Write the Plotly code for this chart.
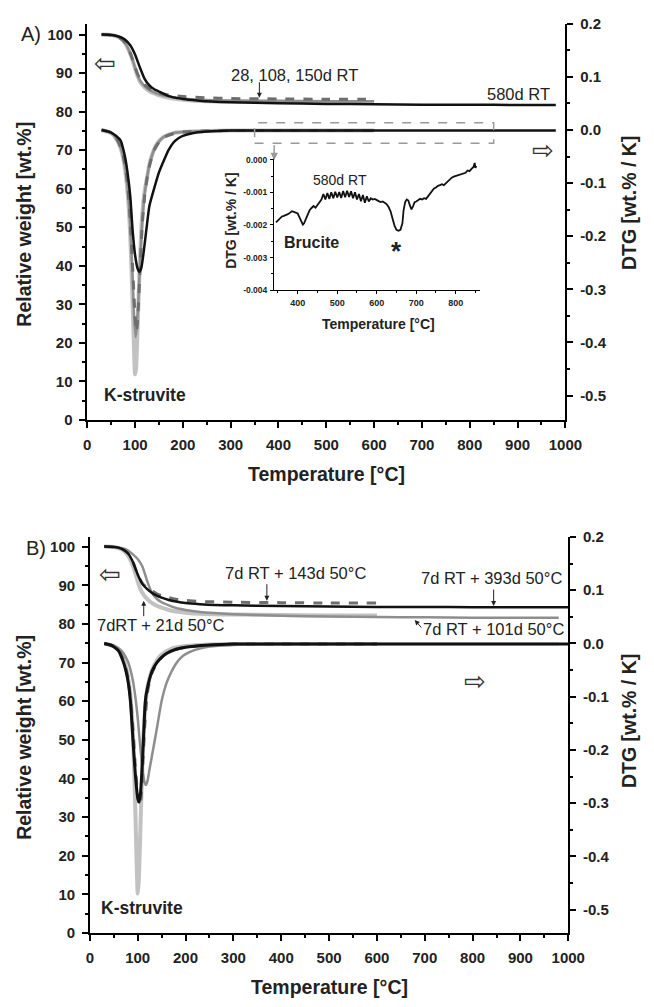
import plotly.graph_objects as go

FONT = "Liberation Sans, Arial, sans-serif"
BLACK = "#111111"
LIGHT = "#c2c2c2"
MID = "#8e8e8e"
DASH = "#6e6e6e"

# ---------------- Panel A : TG (left axis, wt.%) ----------------
a_tg_580_t = [30, 50, 60, 70, 80, 90, 100, 110, 120, 130, 140, 150, 165, 180, 200, 230, 260, 300, 400, 500, 600, 700, 800, 900, 980]
a_tg_580_w = [100, 99.9, 99.7, 99.3, 98.6, 97.2, 94.8, 91.5, 88.5, 86.8, 85.8, 85.2, 84.3, 83.7, 83.3, 82.9, 82.6, 82.4, 82.2, 82.0, 81.9, 81.8, 81.8, 81.7, 81.7]

a_tg_28_t = [30, 50, 60, 70, 80, 90, 95, 100, 105, 110, 120, 130, 140, 150, 170, 200, 250, 300, 400, 500, 600]
a_tg_28_w = [100, 99.9, 99.6, 99.0, 97.6, 95.0, 93.2, 91.2, 89.3, 87.9, 86.3, 85.3, 84.7, 84.2, 83.6, 83.1, 82.7, 82.6, 82.5, 82.4, 82.3]

a_tg_150_t = [30, 50, 60, 70, 80, 90, 95, 100, 105, 110, 120, 130, 140, 150, 170, 200, 250, 300, 400, 500, 600]
a_tg_150_w = [100, 99.9, 99.6, 99.0, 97.7, 95.1, 93.4, 91.4, 89.6, 88.2, 86.6, 85.6, 85.0, 84.5, 83.9, 83.4, 83.0, 82.9, 82.8, 82.7, 82.7]

a_tg_108_t = [30, 50, 60, 70, 80, 90, 95, 100, 105, 110, 120, 130, 140, 150, 170, 200, 250, 300, 400, 500, 600]
a_tg_108_w = [100, 99.9, 99.6, 99.0, 97.7, 95.2, 93.5, 91.6, 89.9, 88.6, 87.0, 86.0, 85.4, 84.9, 84.3, 83.9, 83.6, 83.4, 83.3, 83.2, 83.2]

# ---------------- Panel A : DTG (right axis, wt.%/K) ----------------
a_dtg_580_t = [30, 40, 50, 60, 70, 75, 80, 85, 90, 95, 100, 105, 109, 113, 118, 124, 130, 140, 150, 160, 170, 180, 190, 200, 220, 250, 300, 400, 600, 800, 980]
a_dtg_580_v = [0, -0.002, -0.005, -0.011, -0.02, -0.035, -0.055, -0.085, -0.125, -0.19, -0.235, -0.26, -0.267, -0.26, -0.23, -0.185, -0.143, -0.11, -0.08, -0.058, -0.038, -0.024, -0.016, -0.011, -0.006, -0.003, -0.001, -0.001, -0.001, -0.001, -0.001]

a_dtg_28_t = [30, 50, 60, 70, 75, 80, 85, 90, 95, 98, 100, 102, 105, 110, 115, 120, 125, 130, 140, 150, 160, 180, 200, 250, 300, 400, 500, 600]
a_dtg_28_v = [0, -0.006, -0.016, -0.035, -0.052, -0.08, -0.125, -0.2, -0.33, -0.42, -0.46, -0.45, -0.38, -0.25, -0.16, -0.115, -0.09, -0.065, -0.036, -0.021, -0.013, -0.006, -0.004, -0.002, -0.001, -0.001, -0.001, -0.001]

a_dtg_150_t = [30, 50, 60, 70, 75, 80, 85, 90, 95, 98, 101, 104, 107, 110, 115, 120, 125, 130, 140, 150, 160, 180, 200, 250, 300, 400, 500, 600]
a_dtg_150_v = [0, -0.005, -0.015, -0.033, -0.05, -0.075, -0.115, -0.18, -0.28, -0.35, -0.39, -0.37, -0.32, -0.26, -0.175, -0.122, -0.09, -0.066, -0.037, -0.022, -0.013, -0.006, -0.004, -0.002, -0.001, -0.001, -0.001, -0.001]

a_dtg_108_t = [30, 50, 60, 70, 75, 80, 85, 90, 95, 100, 103, 106, 110, 115, 120, 125, 130, 140, 150, 160, 180, 200, 250, 300, 400, 500, 600]
a_dtg_108_v = [0, -0.005, -0.014, -0.032, -0.048, -0.072, -0.11, -0.17, -0.26, -0.35, -0.38, -0.35, -0.27, -0.18, -0.125, -0.092, -0.068, -0.038, -0.023, -0.014, -0.007, -0.004, -0.002, -0.001, -0.001, -0.001, -0.001]

# ---------------- Inset : brucite region of 580d RT DTG (x 1e-3) ----------------
ins_t = [345, 350, 355, 360, 365, 370, 375, 380, 385, 390, 395, 400, 405, 410, 413, 416, 420, 425, 430, 435,
         440, 445, 450, 455, 460, 465, 470, 475, 480, 485, 490, 495, 500, 505, 510, 515, 520, 525, 530, 535,
         540, 545, 550, 555, 560, 565, 570, 575, 580, 585, 590, 595, 600, 605, 610, 615, 620, 625, 630, 635,
         640, 645, 650, 655, 660, 665, 668, 672, 676, 680, 684, 688, 692, 696, 700, 705, 710, 715, 720, 725,
         730, 735, 740, 745, 750, 755, 760, 765, 770, 775, 780, 785, 790, 795, 800, 805, 810, 815, 820, 825,
         830, 835, 840, 845, 848, 850, 852]
ins_v = [-1.92, -1.85, -1.78, -1.74, -1.72, -1.70, -1.67, -1.63, -1.58, -1.60, -1.63, -1.65, -1.78, -1.92, -1.99, -1.95, -1.82, -1.68, -1.55, -1.48,
         -1.42, -1.47, -1.38, -1.30, -1.22, -1.05, -1.22, -1.02, -1.20, -1.00, -1.18, -0.98, -1.16, -0.99, -1.17, -0.96, -1.15, -0.95, -1.14, -0.97,
         -1.18, -1.00, -1.22, -1.05, -1.27, -1.08, -1.32, -1.12, -1.28, -1.18, -1.22, -1.20, -1.25, -1.27, -1.30, -1.28, -1.32, -1.36, -1.45, -1.58,
         -1.80, -2.02, -2.15, -2.18, -2.15, -1.95, -1.55, -1.30, -1.22, -1.25, -1.40, -1.52, -1.42, -1.30, -1.28, -1.25, -1.20, -1.22, -1.18, -1.20,
         -1.12, -1.05, -0.95, -0.88, -0.85, -0.80, -0.78, -0.75, -0.78, -0.72, -0.65, -0.58, -0.55, -0.52, -0.50, -0.48, -0.47, -0.45, -0.42, -0.40,
         -0.33, -0.35, -0.28, -0.22, -0.10, -0.25, -0.18]
ins_v = [v / 1000 for v in ins_v]

# ---------------- Panel B : TG ----------------
b_tg_393_t = [30, 50, 60, 70, 80, 90, 100, 110, 120, 130, 140, 150, 165, 180, 200, 230, 260, 300, 400, 500, 600, 700, 800, 900, 1000]
b_tg_393_w = [100, 99.9, 99.7, 99.2, 98.2, 96.0, 92.8, 90.3, 89.0, 88.0, 87.3, 86.8, 86.2, 85.8, 85.4, 85.1, 84.9, 84.8, 84.6, 84.5, 84.4, 84.4, 84.3, 84.3, 84.3]

b_tg_101_t = [30, 50, 60, 70, 80, 90, 100, 110, 120, 130, 140, 150, 165, 180, 200, 230, 260, 300, 400, 500, 600, 700, 800, 900, 980]
b_tg_101_w = [100, 99.9, 99.8, 99.5, 99.0, 98.0, 96.8, 94.8, 91.0, 88.0, 86.5, 85.6, 84.8, 84.1, 83.6, 83.1, 82.8, 82.5, 82.1, 81.9, 81.8, 81.7, 81.6, 81.6, 81.6]

b_tg_21_t = [30, 50, 60, 70, 80, 90, 100, 105, 110, 120, 130, 140, 150, 165, 180, 200, 230, 260, 300, 400, 500, 600]
b_tg_21_w = [100, 99.9, 99.6, 99.0, 97.6, 95.0, 91.0, 89.2, 88.0, 86.4, 85.4, 84.7, 84.2, 83.6, 83.2, 82.9, 82.6, 82.5, 82.4, 82.3, 82.2, 82.2]

b_tg_143_t = [30, 50, 60, 70, 80, 90, 100, 110, 120, 130, 140, 150, 165, 180, 200, 230, 260, 300, 400, 500, 600]
b_tg_143_w = [100, 99.9, 99.7, 99.2, 98.2, 96.0, 92.8, 90.5, 89.3, 88.5, 87.8, 87.3, 86.8, 86.4, 86.1, 85.8, 85.7, 85.6, 85.5, 85.4, 85.4]

# ---------------- Panel B : DTG ----------------
b_dtg_393_t = [30, 40, 50, 60, 70, 75, 80, 85, 90, 95, 100, 103, 106, 110, 115, 117, 120, 125, 130, 140, 150, 160, 180, 200, 250, 300, 400, 600, 800, 1000]
b_dtg_393_v = [0, -0.002, -0.006, -0.014, -0.035, -0.05, -0.072, -0.11, -0.18, -0.245, -0.29, -0.298, -0.28, -0.22, -0.12, -0.1, -0.085, -0.066, -0.052, -0.036, -0.026, -0.019, -0.011, -0.007, -0.003, -0.001, -0.001, -0.001, -0.001, -0.001]

b_dtg_101_t = [30, 50, 60, 70, 80, 85, 90, 95, 100, 105, 110, 114, 117, 120, 125, 130, 140, 150, 160, 170, 180, 190, 200, 220, 250, 300, 400, 600, 800, 980]
b_dtg_101_v = [0, -0.004, -0.009, -0.018, -0.035, -0.05, -0.07, -0.1, -0.14, -0.19, -0.235, -0.26, -0.266, -0.26, -0.235, -0.21, -0.16, -0.108, -0.075, -0.054, -0.038, -0.027, -0.02, -0.012, -0.006, -0.003, -0.001, -0.001, -0.001, -0.001]

b_dtg_21_t = [30, 50, 60, 70, 80, 85, 90, 95, 98, 100, 102, 105, 110, 115, 120, 130, 140, 150, 170, 200, 250, 300, 400, 600]
b_dtg_21_v = [0, -0.005, -0.012, -0.028, -0.065, -0.1, -0.17, -0.31, -0.42, -0.47, -0.45, -0.37, -0.22, -0.13, -0.085, -0.05, -0.032, -0.021, -0.01, -0.005, -0.002, -0.001, -0.001, -0.001]

b_dtg_143_t = [30, 50, 60, 70, 80, 90, 95, 100, 104, 107, 110, 115, 120, 125, 130, 140, 150, 170, 200, 250, 300, 400, 600]
b_dtg_143_v = [0, -0.005, -0.012, -0.03, -0.065, -0.16, -0.23, -0.285, -0.305, -0.29, -0.24, -0.15, -0.095, -0.07, -0.055, -0.037, -0.026, -0.014, -0.007, -0.003, -0.001, -0.001, -0.001]

# tick labels (hyphen minus as in the original)
dtg_ticks = [-0.5, -0.4, -0.3, -0.2, -0.1, 0.0, 0.1, 0.2]
dtg_ticktext = ["-0.5", "-0.4", "-0.3", "-0.2", "-0.1", "0.0", "0.1", "0.2"]
ins_yticks = [-0.004, -0.003, -0.002, -0.001, 0.0]
ins_yticktext = ["-0.004", "-0.003", "-0.002", "-0.001", "0.000"]


def line(x, y, xa, ya, color, width, dash="solid", shape="spline"):
    return go.Scatter(x=x, y=y, xaxis=xa, yaxis=ya, mode="lines", showlegend=False, hoverinfo="skip",
                      line=dict(color=color, width=width, dash=dash, shape=shape, smoothing=0.6))


fig = go.Figure()

# panel A (x / y left, y2 right)
fig.add_trace(line(a_tg_28_t, a_tg_28_w, "x", "y", LIGHT, 4))
fig.add_trace(line(a_tg_150_t, a_tg_150_w, "x", "y", MID, 2.5))
fig.add_trace(line(a_tg_108_t, a_tg_108_w, "x", "y", DASH, 3, "dash"))
fig.add_trace(line(a_tg_580_t, a_tg_580_w, "x", "y", BLACK, 2.5))
fig.add_trace(line(a_dtg_28_t, a_dtg_28_v, "x", "y2", LIGHT, 4))
fig.add_trace(line(a_dtg_150_t, a_dtg_150_v, "x", "y2", MID, 2.5))
fig.add_trace(line(a_dtg_108_t, a_dtg_108_v, "x", "y2", DASH, 3, "dash"))
fig.add_trace(line(a_dtg_580_t, a_dtg_580_v, "x", "y2", BLACK, 2.5))

# inset
fig.add_trace(line(ins_t, ins_v, "x3", "y5", BLACK, 1.8, shape="linear"))

# panel B (x2 / y3 left, y4 right)
fig.add_trace(line(b_tg_21_t, b_tg_21_w, "x2", "y3", LIGHT, 4))
fig.add_trace(line(b_tg_101_t, b_tg_101_w, "x2", "y3", MID, 2.5))
fig.add_trace(line(b_tg_143_t, b_tg_143_w, "x2", "y3", DASH, 3, "dash"))
fig.add_trace(line(b_tg_393_t, b_tg_393_w, "x2", "y3", BLACK, 2.5))
fig.add_trace(line(b_dtg_21_t, b_dtg_21_v, "x2", "y4", LIGHT, 4))
fig.add_trace(line(b_dtg_101_t, b_dtg_101_v, "x2", "y4", MID, 2.5))
fig.add_trace(line(b_dtg_143_t, b_dtg_143_v, "x2", "y4", DASH, 3, "dash"))
fig.add_trace(line(b_dtg_393_t, b_dtg_393_v, "x2", "y4", BLACK, 3))

W, H = 654, 1007


def px_x(p):
    return p / W


def px_y(p):
    return 1 - p / H


tick_font = dict(family=FONT, size=15, color="#222", weight="bold")
small_font = dict(family=FONT, size=9, color="#222", weight="bold")
ax_style = dict(showline=True, linecolor="black", linewidth=1.5, ticks="outside", ticklen=6,
                tickwidth=1.5, tickcolor="black", showgrid=False, zeroline=False,
                tickfont=tick_font, ticklabelstandoff=4)

xa = dict(ax_style, range=[0, 1000], dtick=100, tick0=0,
          minor=dict(dtick=50, ticklen=3, tickwidth=1.5, tickcolor="black", ticks="outside"))
yl = dict(ax_style, dtick=10, tick0=0,
          minor=dict(dtick=5, ticklen=3, tickwidth=1.5, tickcolor="black", ticks="outside"))
yr = dict(ax_style, side="right", tickvals=dtg_ticks, ticktext=dtg_ticktext,
          minor=dict(dtick=0.05, tick0=0, ticklen=3, tickwidth=1.5, tickcolor="black", ticks="outside"))

fig.update_layout(
    width=W, height=H, margin=dict(l=0, r=0, t=0, b=0),
    paper_bgcolor="white", plot_bgcolor="rgba(0,0,0,0)", hovermode=False,
    font=dict(family=FONT, color="#222"),
    xaxis=dict(xa, domain=[px_x(86), px_x(580)], anchor="y"),
    yaxis=dict(yl, domain=[px_y(418), px_y(15)], range=[0, 102.8], anchor="x"),
    yaxis2=dict(yr, range=[-0.546, 0.2], overlaying="y", anchor="x"),
    xaxis2=dict(xa, domain=[px_x(88.7), px_x(583)], anchor="y3"),
    yaxis3=dict(yl, domain=[px_y(940), px_y(537)], range=[0, 102.5], anchor="x2"),
    yaxis4=dict(yr, range=[-0.544, 0.2], overlaying="y3", anchor="x2"),
    xaxis3=dict(ax_style, domain=[px_x(279), px_x(492)], anchor="y5", range=[340, 862],
                tickvals=[400, 500, 600, 700, 800], ticklen=3, tickwidth=1, ticklabelstandoff=1,
                tickfont=small_font, linewidth=1.2,
                minor=dict(dtick=50, tick0=0, ticklen=2, tickwidth=1, tickcolor="black", ticks="outside")),
    yaxis5=dict(ax_style, domain=[px_y(286), px_y(150)], anchor="x3", range=[-0.004, 0.0001],
                tickvals=ins_yticks, ticktext=ins_yticktext, ticklen=3, tickwidth=1, ticklabelstandoff=1,
                tickfont=dict(small_font, size=8.5), linewidth=1.2,
                minor=dict(dtick=0.0005, tick0=0, ticklen=2, tickwidth=1, tickcolor="black", ticks="outside")),
)

# dashed frame marking the magnified region
fig.add_shape(type="rect", xref="x", yref="y2", x0=350, x1=850, y0=-0.025, y1=0.0135,
              line=dict(color="#9a9a9a", width=1.5, dash="dash"))

ann = []


def text(x, y, s, xref, yref, size=16.5, bold=False, **kw):
    d = dict(x=x, y=y, xref=xref, yref=yref, text=f"<b>{s}</b>" if bold else s, showarrow=False,
             xanchor="center", yanchor="middle",
             font=dict(family=FONT, size=size, color="#222"))
    d.update(kw)
    ann.append(d)


def arrow(x, y, axp, ayp, xref, yref, color="#222"):
    ann.append(dict(x=x, y=y, xref=xref, yref=yref, text="", showarrow=True, ax=axp, ay=ayp,
                    arrowhead=2, arrowsize=1, arrowwidth=1, arrowcolor=color))


HOLLOW = dict(family="DejaVu Sans", size=26, color="#333")


def hollow(x, y, ch, xref, yref):
    ann.append(dict(x=x, y=y, xref=xref, yref=yref, text=ch, showarrow=False,
                    xanchor="center", yanchor="middle", font=HOLLOW))


# panel A labels
text(px_x(28), px_y(25), "A)", "paper", "paper", size=20)
text(433, 89.5, "28, 108, 150d RT", "x", "y")
arrow(360, 83.6, 0, -17, "x", "y")
text(972, 84.6, "580d RT", "x", "y", xanchor="right")
text(120, 6.6, "K-struvite", "x", "y", size=17.5, bold=True)
hollow(38, 92.5, "\u21e6", "x", "y")
hollow(953, -0.037, "\u21e8", "x", "y2")
ann.append(dict(x=391, y=-0.057, xref="x", yref="y2", text="", showarrow=True, ax=391, ay=-0.026,
                axref="x", ayref="y2", arrowhead=2, arrowsize=1, arrowwidth=1.5, arrowcolor="#9a9a9a"))

# inset labels
text(507, -0.00062, "580d RT", "x3", "y5", size=14)
text(434, -0.00253, "Brucite", "x3", "y5", size=16, bold=True)
text(651, -0.0028, "*", "x3", "y5", size=26, bold=True)
text(px_x(387), px_y(320), "Temperature [\u00b0C]", "paper", "paper", size=14, bold=True)
text(px_x(235), px_y(215), "DTG [wt.% / K]", "paper", "paper", size=14, bold=True, textangle=-90)

# panel B labels
text(px_x(33), px_y(548), "B)", "paper", "paper", size=20)
text(430, 93.2, "7d RT + 143d 50\u00b0C", "x2", "y3")
arrow(370, 86.0, 0, -18, "x2", "y3")
text(839, 91.8, "7d RT + 393d 50\u00b0C", "x2", "y3")
arrow(844, 84.6, 0, -18, "x2", "y3")
text(843, 78.6, "7d RT + 101d 50\u00b0C", "x2", "y3")
arrow(679, 81.0, 8, 9, "x2", "y3")
text(148, 79.7, "7dRT + 21d 50\u00b0C", "x2", "y3")
arrow(112.6, 86.0, 0, 17, "x2", "y3")
text(109, 6.4, "K-struvite", "x2", "y3", size=17.5, bold=True)
hollow(43, 92.8, "\u21e6", "x2", "y3")
hollow(806, -0.07, "\u21e8", "x2", "y4")

# axis titles
for yc_l, yc_r, yc_t, xc_t in [(219, 197, 473, 333), (741, 724, 995, 336)]:
    text(px_x(21), px_y(yc_l), "Relative weight [wt.%]", "paper", "paper", size=19.5, bold=True, textangle=-90)
    text(px_x(645), px_y(yc_r), "DTG [wt.% / K]", "paper", "paper", size=19.5, bold=True, textangle=-90)
    text(px_x(xc_t), px_y(yc_t), "Temperature [\u00b0C]", "paper", "paper", size=19.5, bold=True)

fig.update_layout(annotations=ann)

# drop the default 8px page margin so the figure sits at the window origin
fig.write_html("out.html", config={"displayModeBar": False},
               post_script="document.body.style.margin='0';")
